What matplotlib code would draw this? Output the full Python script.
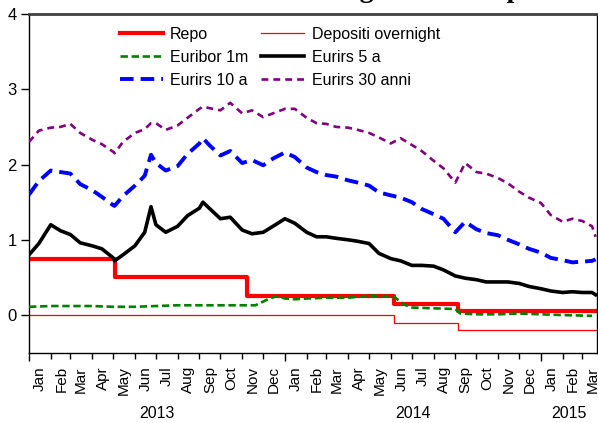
import numpy as np
import pandas as pd
import matplotlib
matplotlib.use("Agg")
import matplotlib.pyplot as plt
import matplotlib.dates as mdates
import matplotlib.transforms as mtransforms

plt.rcParams["font.family"] = ["Liberation Sans", "DejaVu Sans"]

# -----------------------------
# Data
# -----------------------------
X_START = "2013-01-01"
X_END = "2015-03-22"

# policy rates (step changes)
repo_dates = ["2013-01-01", "2013-05-03", "2013-11-08", "2014-06-06", "2014-09-05", "2015-03-22"]
repo_vals = [0.75, 0.50, 0.25, 0.15, 0.05, 0.05]
depo_dates = ["2013-01-01", "2014-06-06", "2014-09-05", "2015-03-22"]
depo_vals = [0.00, -0.10, -0.20, -0.20]

# Euribor 1 month
eur1m_dates = ["2013-01-01", "2013-02-01", "2013-03-01", "2013-04-01", "2013-05-01", "2013-06-01",
               "2013-07-01", "2013-08-01", "2013-09-01", "2013-10-01", "2013-11-01", "2013-11-20",
               "2013-12-10", "2013-12-20", "2014-01-01", "2014-01-15", "2014-02-01", "2014-03-01",
               "2014-04-01", "2014-05-01", "2014-06-01", "2014-06-06", "2014-06-20", "2014-07-01",
               "2014-08-01", "2014-09-01", "2014-09-08", "2014-10-01", "2014-11-01", "2014-12-01",
               "2015-01-01", "2015-02-01", "2015-03-15"]
eur1m_vals = [0.11, 0.12, 0.12, 0.12, 0.11, 0.11,
              0.12, 0.13, 0.13, 0.13, 0.13, 0.13,
              0.22, 0.25, 0.22, 0.21, 0.22, 0.23,
              0.23, 0.26, 0.25, 0.24, 0.14, 0.10,
              0.09, 0.08, 0.02, 0.01, 0.01, 0.02,
              0.01, 0.00, -0.01]

# Eurirs (swap rates), semi-monthly readings plus a few extremes
irs_dates = ["2013-01-01", "2013-01-15", "2013-02-01", "2013-02-15", "2013-03-01", "2013-03-15",
             "2013-04-01", "2013-04-15", "2013-05-01", "2013-05-03", "2013-05-15", "2013-06-01",
             "2013-06-15", "2013-06-24", "2013-07-01", "2013-07-15", "2013-08-01", "2013-08-15",
             "2013-09-01", "2013-09-06", "2013-09-15", "2013-10-01", "2013-10-15", "2013-11-01",
             "2013-11-15", "2013-12-01", "2013-12-15", "2014-01-01", "2014-01-15", "2014-02-01",
             "2014-02-15", "2014-03-01", "2014-03-15", "2014-04-01", "2014-04-15", "2014-05-01",
             "2014-05-15", "2014-06-01", "2014-06-15", "2014-07-01", "2014-07-15", "2014-08-01",
             "2014-08-15", "2014-09-01", "2014-09-15", "2014-10-01", "2014-10-15", "2014-11-01",
             "2014-11-15", "2014-12-01", "2014-12-15", "2015-01-01", "2015-01-15", "2015-02-01",
             "2015-02-15", "2015-03-01", "2015-03-15", "2015-03-20"]
irs5_vals = [0.80, 0.95, 1.20, 1.12, 1.07, 0.96,
             0.92, 0.88, 0.76, 0.72, 0.80, 0.92,
             1.10, 1.44, 1.20, 1.10, 1.18, 1.32,
             1.42, 1.50, 1.42, 1.28, 1.30, 1.13,
             1.08, 1.10, 1.18, 1.28, 1.22, 1.10,
             1.04, 1.04, 1.02, 1.00, 0.98, 0.95,
             0.82, 0.75, 0.72, 0.66, 0.66, 0.65,
             0.60, 0.52, 0.49, 0.47, 0.44, 0.44,
             0.44, 0.42, 0.38, 0.35, 0.32, 0.30,
             0.31, 0.30, 0.30, 0.27]
irs10_vals = [1.60, 1.78, 1.92, 1.90, 1.88, 1.74,
              1.66, 1.57, 1.46, 1.45, 1.58, 1.72,
              1.85, 2.13, 2.02, 1.92, 1.98, 2.14,
              2.28, 2.35, 2.26, 2.12, 2.18, 2.02,
              2.06, 1.99, 2.08, 2.16, 2.10, 1.96,
              1.90, 1.86, 1.84, 1.79, 1.76, 1.72,
              1.63, 1.59, 1.56, 1.50, 1.41, 1.34,
              1.28, 1.10, 1.24, 1.14, 1.09, 1.06,
              1.00, 0.94, 0.88, 0.83, 0.76, 0.73,
              0.70, 0.71, 0.72, 0.74]
irs30_vals = [2.30, 2.45, 2.49, 2.50, 2.54, 2.42,
              2.33, 2.27, 2.17, 2.15, 2.30, 2.42,
              2.47, 2.55, 2.55, 2.46, 2.52, 2.62,
              2.74, 2.77, 2.75, 2.72, 2.82, 2.68,
              2.72, 2.63, 2.68, 2.74, 2.74, 2.62,
              2.55, 2.54, 2.50, 2.49, 2.46, 2.42,
              2.36, 2.28, 2.35, 2.26, 2.18, 2.05,
              1.95, 1.76, 2.02, 1.90, 1.88, 1.82,
              1.75, 1.64, 1.56, 1.49, 1.33, 1.24,
              1.28, 1.25, 1.18, 1.04]

YEAR_LABELS = ["2013", "2014", "2015"]

# -----------------------------
# Plot
# -----------------------------
fig = plt.figure(figsize=(5.98, 4.23), dpi=100)
ax = fig.add_axes([0.0485, 0.1662, 0.9498, 0.8007])

h_repo, = ax.plot(pd.to_datetime(repo_dates), repo_vals, color="#ff0000", lw=3.0,
                  drawstyle="steps-post", label="Repo", zorder=2)
h_depo, = ax.plot(pd.to_datetime(depo_dates), depo_vals, color="#ff0000", lw=0.9,
                  drawstyle="steps-post", label="Depositi overnight", zorder=2)
h_eur, = ax.plot(pd.to_datetime(eur1m_dates), eur1m_vals, color="#008000", lw=1.9,
                 dashes=(2.8, 1.4), label="Euribor 1m", zorder=3)
d = pd.to_datetime(irs_dates)
h_5, = ax.plot(d, irs5_vals, color="black", lw=2.6, label="Eurirs 5 a", zorder=3)
h_10, = ax.plot(d, irs10_vals, color="#0000ff", lw=2.8, dashes=(3.5, 1.8),
                label="Eurirs 10 a", zorder=3)
h_30, = ax.plot(d, irs30_vals, color="#800080", lw=1.9, dashes=(2.6, 1.9),
                label="Eurirs 30 anni", zorder=3)

x0, x1 = pd.Timestamp(X_START), pd.Timestamp(X_END)
ax.set_xlim(x0, x1)
ax.set_ylim(-0.5, 4)
ax.set_yticks([0, 1, 2, 3, 4])
ax.tick_params(axis="y", direction="out", length=6, width=1, pad=3, labelsize=12)

# month / year ticks
ax.xaxis.set_major_locator(mdates.YearLocator())
ax.xaxis.set_minor_locator(mdates.MonthLocator())
ax.xaxis.set_major_formatter(plt.NullFormatter())
ax.tick_params(axis="x", which="major", direction="out", length=6, width=1)
ax.tick_params(axis="x", which="minor", direction="out", length=4.2, width=1)

trans = mtransforms.blended_transform_factory(ax.transData, ax.transAxes)
for m in pd.date_range(x0, x1, freq="MS"):
    ax.text(m + pd.Timedelta(days=15), -0.04, m.strftime("%b"), rotation=90,
            ha="center", va="top", fontsize=11, transform=trans)
for yl in YEAR_LABELS:
    a = max(pd.Timestamp(yl + "-01-01"), x0)
    b = min(pd.Timestamp(yl + "-12-31"), x1)
    ax.text(a + (b - a) / 2, -0.18, yl, ha="center", va="center", fontsize=11.5,
            transform=trans)

for sp in ["left", "right", "bottom"]:
    ax.spines[sp].set_linewidth(1.0)
    ax.spines[sp].set_color("black")
ax.spines["top"].set_linewidth(2.0)
ax.spines["top"].set_color("#404040")

# legend filled row by row
handles = [h_repo, h_eur, h_10, h_depo, h_5, h_30]
ax.legend(handles=handles, ncol=2, frameon=False, fontsize=11.5,
          loc="upper left", bbox_to_anchor=(0.16, 0.962), borderpad=0,
          borderaxespad=0, handlelength=2.7, handletextpad=0.45,
          columnspacing=0.8, labelspacing=0.5)

# title, cropped by the top edge of the picture
fig.text(255 / 598, 1 + 3 / 423, "Tassi lunghi e tassi repo", family="Liberation Serif",
         weight="bold", fontsize=20, ha="left", va="baseline")

fig.savefig("out.png", dpi=100)
